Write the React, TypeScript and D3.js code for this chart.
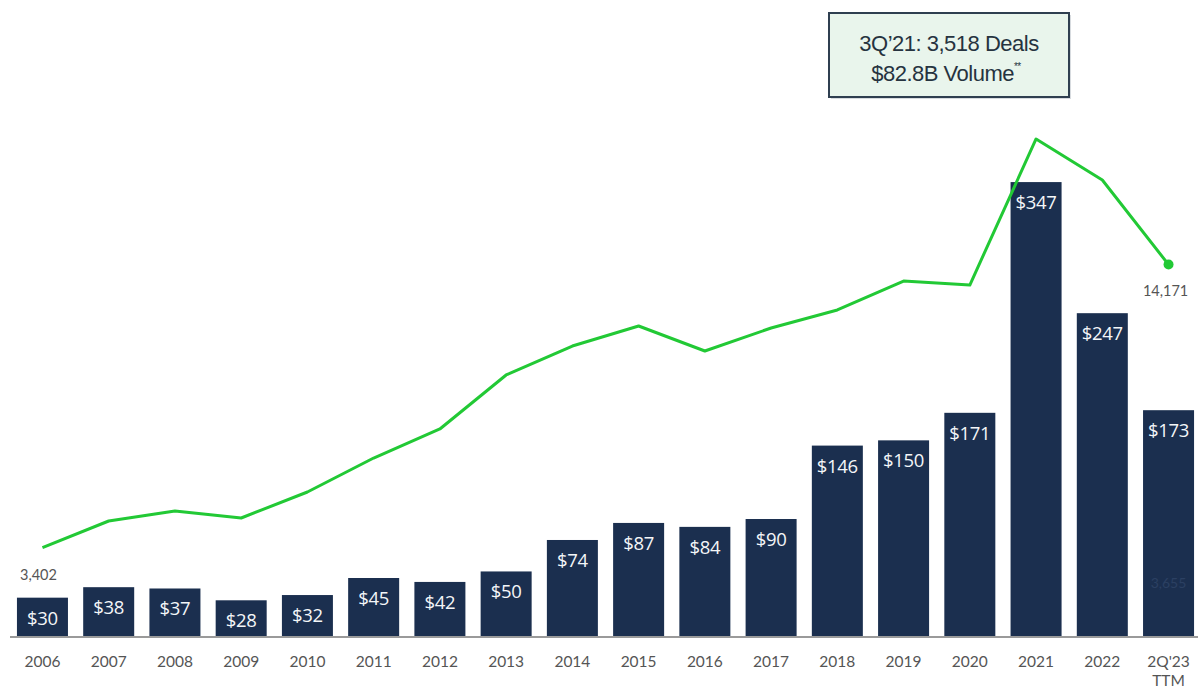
import * as d3 from "d3";

const years = ["2006", "2007", "2008", "2009", "2010", "2011", "2012", "2013", "2014", "2015", "2016", "2017", "2018", "2019", "2020", "2021", "2022", "2Q'23"];
const volume = [30, 38, 37, 28, 32, 45, 42, 50, 74, 87, 84, 90, 146, 150, 171, 347, 247, 173];
const deals = [3402, 4414, 4795, 4528, 5518, 6811, 7915, 9970, 11073, 11834, 10883, 11758, 12443, 13546, 13394, 18950, 17390, 14171];

const width = 1198;
const height = 688;
const baseY = 637;

export default function App() {
  const x = d3.scaleBand<string>().domain(years).range([9, 1202]).paddingInner(0.23).paddingOuter(0.12);
  const yBar = d3.scaleLinear([0, 400], [baseY, baseY - 400 * 1.311]);
  const yLine = d3.scaleLinear([0, 20000], [baseY, baseY - 20000 * 0.02628]);
  const cx = (d: string) => x(d)! + x.bandwidth() / 2;

  const line = d3
    .line<number>()
    .x((_, i) => cx(years[i]))
    .y((d) => yLine(d));

  const last = years.length - 1;

  return (
    <svg width={width} height={height} style={{ position: "absolute", left: 0, top: 0, background: "#fff" }}>
      <g>
        {years.map((yr, i) => (
          <g key={yr}>
            <rect x={x(yr)} y={yBar(volume[i])} width={x.bandwidth()} height={baseY - yBar(volume[i])} fill="#1b2f4f" />
            <text
              x={cx(yr)}
              y={yBar(volume[i]) + 27}
              textAnchor="middle"
              fill="#f4f6f8"
              fontFamily="'Open Sans', sans-serif"
              fontSize={18.5}
              letterSpacing={-0.3}
            >
              ${volume[i]}
            </text>
          </g>
        ))}
      </g>
      <line x1={10} x2={width} y1={baseY} y2={baseY} stroke="#9a9a9a" strokeWidth={2} />
      <g fontFamily="Lato, 'Open Sans', sans-serif" fontSize={15.5} fill="#555" textAnchor="middle">
        {years.map((yr) => (
          <text key={yr} x={cx(yr)} y={667}>
            {yr}
          </text>
        ))}
        <text x={cx(years[last])} y={686}>TTM</text>
      </g>
      <path d={line(deals) as string} fill="none" stroke="#22c935" strokeWidth={3} strokeLinejoin="round" />
      <circle cx={cx(years[last])} cy={yLine(deals[last])} r={5} fill="#22c935" />
      <g fontFamily="Lato, 'Open Sans', sans-serif" fontSize={14.5} fill="#555" textAnchor="middle">
        <text x={cx(years[0]) - 4} y={580}>{d3.format(",")(deals[0])}</text>
        <text x={cx(years[last]) - 3} y={296}>{d3.format(",")(deals[last])}</text>
      </g>
      <text x={cx(years[last])} y={588} textAnchor="middle" fontFamily="Lato, sans-serif" fontSize={14} fill="#2b4062">
        3,655
      </text>
      <g>
        <rect x={831} y={15} width={240} height={84} fill="#b0b8c0" opacity={0.5} />
        <rect x={829} y={13} width={240} height={84} fill="#e9f5ec" stroke="#2f3f50" strokeWidth={2} />
        <g fontFamily="'Liberation Sans', Arial, sans-serif" fontSize={22} fill="#26333f" textAnchor="middle" letterSpacing={-0.5}>
          <text x={949} y={51}>3Q’21: 3,518 Deals</text>
          <text x={946} y={81}>
            $82.8B Volume<tspan fontSize={10} dy={-11}>**</tspan>
          </text>
        </g>
      </g>
    </svg>
  );
}
